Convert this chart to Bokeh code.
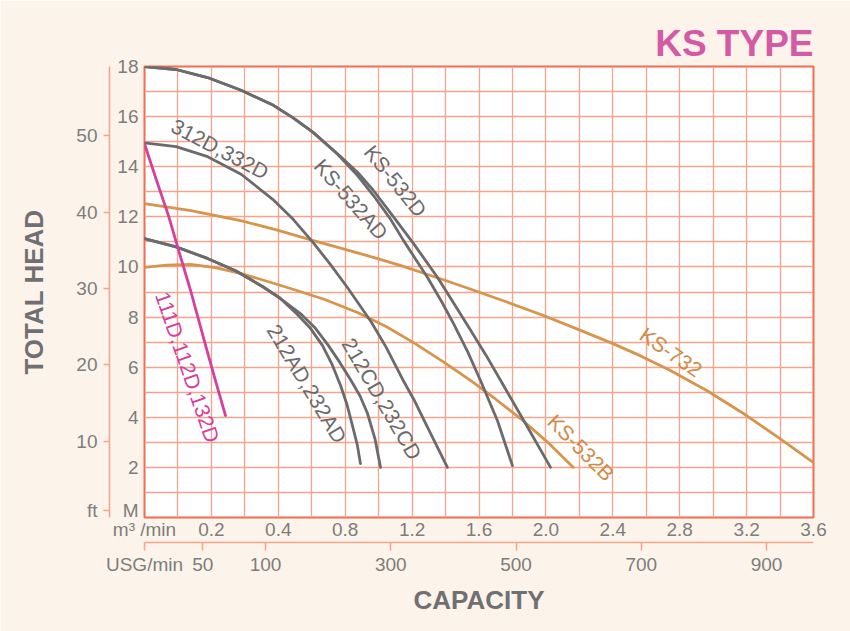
import math
from bokeh.plotting import figure
from bokeh.models import LinearAxis, Range1d, FixedTicker, Title, ColumnDataSource
from bokeh.embed import file_html
from bokeh.resources import INLINE
from bokeh.core.properties import value

# ---------------- axes / ticks ----------------
# capacity is on the m3/min scale of the chart (0 .. 3.6 across the frame)
m3_ticks = [0.0, 0.36, 0.72, 1.08, 1.44, 1.80, 2.16, 2.52, 2.88, 3.24, 3.60]
m3_labels = ["m³ /min", "0.2", "0.4", "0.8", "1.2", "1.6", "2.0", "2.4", "2.8", "3.2", "3.6"]
usg_ticks = [-93.2, 0, 100, 300, 500, 700, 900]
usg_labels = ["USG/min", "50", "100", "300", "500", "700", "900"]
m_ticks = [0.28, 2, 4, 6, 8, 10, 12, 14, 16, 18]
m_labels = ["M", "2", "4", "6", "8", "10", "12", "14", "16", "18"]
ft_ticks = [0.9, 10, 20, 30, 40, 50]
ft_labels = ["ft", "10", "20", "30", "40", "50"]

# ---------------- pump curves (capacity, head m) ----------------
ks532d_q = [0, 0.17, 0.339, 0.52, 0.694, 0.80, 0.909, 1.055, 1.15, 1.232, 1.34, 1.448,
            1.577, 1.66, 1.749, 1.84, 1.932, 2.05, 2.185]
ks532d_h = [18.0, 17.88, 17.56, 17.05, 16.45, 15.95, 15.36, 14.41, 13.75, 13.05, 12.0, 10.93,
            9.58, 8.6, 7.54, 6.45, 5.27, 3.75, 2.0]

ks532ad_q = [0, 0.17, 0.339, 0.52, 0.694, 0.80, 0.909, 1.039, 1.14, 1.232, 1.32, 1.394,
             1.46, 1.523, 1.60, 1.663, 1.74, 1.808, 1.90, 1.98]
ks532ad_h = [18.0, 17.88, 17.56, 17.05, 16.45, 15.95, 15.36, 14.5, 13.7, 12.85, 11.95, 11.05,
             10.3, 9.58, 8.6, 7.74, 6.6, 5.47, 3.85, 2.07]

d312_q = [0, 0.17, 0.34, 0.52, 0.69, 0.80, 0.91, 1.00, 1.09, 1.16, 1.22, 1.30, 1.39,
          1.45, 1.51, 1.57, 1.63]
d312_h = [14.95, 14.8, 14.4, 13.7, 12.7, 11.9, 10.95, 10.1, 9.2, 8.45, 7.8, 6.8, 5.5,
          4.7, 3.8, 2.9, 2.0]

ad212_q = [0, 0.17, 0.339, 0.49, 0.635, 0.73, 0.823, 0.893, 0.958, 1.01, 1.055, 1.09,
           1.119, 1.145, 1.162]
ad212_h = [11.13, 10.8, 10.34, 9.85, 9.22, 8.75, 8.1, 7.55, 6.86, 6.1, 5.27, 4.5,
           3.67, 2.9, 2.15]

cd212_q = [0, 0.17, 0.339, 0.49, 0.635, 0.73, 0.839, 0.92, 0.990, 1.05, 1.109, 1.16,
           1.20, 1.24, 1.27]
cd212_h = [11.13, 10.8, 10.34, 9.85, 9.22, 8.75, 8.14, 7.55, 6.86, 6.2, 5.5, 4.85,
           4.15, 3.15, 2.0]

ks532b_q = [0, 0.12, 0.248, 0.38, 0.517, 0.65, 0.786, 0.97, 1.146, 1.30, 1.448, 1.60,
            1.754, 1.89, 2.023, 2.17, 2.308]
ks532b_h = [9.98, 10.07, 10.10, 9.97, 9.74, 9.45, 9.14, 8.7, 8.18, 7.62, 6.98, 6.25,
            5.47, 4.72, 3.95, 3.0, 2.0]

ks732_q = [0, 0.25, 0.517, 0.71, 0.909, 1.07, 1.232, 1.38, 1.523, 1.64, 1.760, 1.95,
           2.147, 2.33, 2.508, 2.67, 2.830, 3.03, 3.223, 3.41, 3.600]
ks732_h = [12.53, 12.25, 11.85, 11.48, 11.05, 10.72, 10.38, 10.05, 9.70, 9.41, 9.10, 8.60,
           8.06, 7.52, 6.98, 6.45, 5.87, 5.05, 4.15, 3.2, 2.19]

d111_q = [0, 0.065, 0.129, 0.19, 0.248, 0.30, 0.344, 0.39, 0.436]
d111_h = [14.92, 13.45, 12.05, 10.5, 9.06, 7.65, 6.46, 5.25, 4.07]

# curve labels: text, x, y, angle (deg)
lab_text = ["312D,332D", "KS-532D", "KS-532AD", "212AD,232AD", "212CD,232CD",
            "111D,112D,132D", "KS-732", "KS-532B"]
lab_x = [0.407, 1.351, 1.112, 0.874, 1.278, 0.232, 2.833, 2.349]
lab_y = [14.71, 13.43, 12.70, 5.34, 4.74, 6.00, 6.60, 2.79]
lab_angle = [-27.6, -50.8, -48.7, -59.0, -59.7, -71.0, -34.6, -45.0]

GRAY = "#6b6b6d"
ORANGE = "#d8944c"
MAGENTA = "#d63f9b"
LABEL_ORANGE = "#cf8b45"
TICK_COL = "#7d7d7d"
SALMON = "#f6a38c"
FONT = "Liberation Sans"

p = figure(width=850, height=631, x_range=Range1d(0, 3.6), y_range=Range1d(0, 18),
           output_backend="svg", toolbar_location=None,
           min_border_left=144, min_border_right=37, min_border_top=66, min_border_bottom=114)
p.extra_x_ranges = {"usg": Range1d(-93.2, 975)}
p.extra_y_ranges = {"ft": Range1d(0, 18 * 3.2808)}

p.background_fill_color = "white"
p.border_fill_color = "#fcf4ea"
p.outline_line_color = "#f26d50"
p.outline_line_width = 2

# grids
p.xgrid.ticker = FixedTicker(ticks=[0.18 * k for k in range(1, 20)])
p.ygrid.ticker = FixedTicker(ticks=list(range(1, 18)))
for g in (p.xgrid, p.ygrid):
    g.grid_line_color = SALMON
    g.grid_line_width = 1.3

# metre axis (inner left)
ya = p.yaxis[0]
ya.ticker = FixedTicker(ticks=m_ticks)
ya.major_label_overrides = dict(zip(m_ticks, m_labels))
ya.axis_line_color = None
ya.major_tick_line_color = None
ya.minor_tick_line_color = None
ya.major_tick_out = 0
ya.major_tick_in = 0
ya.major_label_standoff = 6
ya.major_label_text_font = FONT
ya.major_label_text_font_size = "19px"
ya.major_label_text_color = TICK_COL
ya.axis_label = "."
ya.axis_label_text_alpha = 0
ya.axis_label_text_font_size = "2px"
ya.axis_label_standoff = 1

# feet axis (outer left)
fa = LinearAxis(y_range_name="ft", ticker=FixedTicker(ticks=ft_ticks),
                major_label_overrides=dict(zip(ft_ticks, ft_labels)),
                axis_label="TOTAL HEAD")
fa.axis_line_color = SALMON
fa.axis_line_width = 1.5
fa.major_tick_line_color = SALMON
fa.major_tick_line_width = 1.5
fa.major_tick_out = 6
fa.major_tick_in = 0
fa.minor_tick_line_color = None
fa.major_label_standoff = 6
fa.major_label_text_font = FONT
fa.major_label_text_font_size = "19px"
fa.major_label_text_color = TICK_COL
fa.axis_label_text_font = FONT
fa.axis_label_text_font_size = "26px"
fa.axis_label_text_font_style = "bold"
fa.axis_label_text_color = "#707072"
fa.axis_label_standoff = 24
p.add_layout(fa, "left")

# m3/min axis (inner bottom)
xa = p.xaxis[0]
xa.ticker = FixedTicker(ticks=m3_ticks)
xa.major_label_overrides = dict(zip(m3_ticks, m3_labels))
xa.axis_line_color = None
xa.major_tick_line_color = None
xa.minor_tick_line_color = None
xa.major_tick_out = 0
xa.major_tick_in = 0
xa.major_label_standoff = 1
xa.major_label_text_font = FONT
xa.major_label_text_font_size = "19px"
xa.major_label_text_color = TICK_COL

# USG/min axis (outer bottom)
ua = LinearAxis(x_range_name="usg", ticker=FixedTicker(ticks=usg_ticks),
                major_label_overrides=dict(zip(usg_ticks, usg_labels)),
                axis_label="CAPACITY")
ua.axis_line_color = SALMON
ua.axis_line_width = 1.5
ua.major_tick_line_color = SALMON
ua.major_tick_line_width = 1.5
ua.major_tick_out = 8
ua.major_tick_in = 0
ua.minor_tick_line_color = None
ua.major_label_standoff = 3
ua.major_label_text_font = FONT
ua.major_label_text_font_size = "19px"
ua.major_label_text_color = TICK_COL
ua.axis_label_text_font = FONT
ua.axis_label_text_font_size = "26px"
ua.axis_label_text_font_style = "bold"
ua.axis_label_text_color = "#707072"
ua.axis_label_standoff = 7
p.add_layout(ua, "below")

p.add_layout(Title(text="KS TYPE", align="right", text_font=FONT, text_font_size="37px",
                   text_font_style="bold", text_color="#d55aa5", standoff=6), "above")

# curves
curves = [
    (ks732_q, ks732_h, ORANGE),
    (ks532b_q, ks532b_h, ORANGE),
    (ks532d_q, ks532d_h, GRAY),
    (ks532ad_q, ks532ad_h, GRAY),
    (d312_q, d312_h, GRAY),
    (ad212_q, ad212_h, GRAY),
    (cd212_q, cd212_h, GRAY),
    (d111_q, d111_h, MAGENTA),
]
for q, h, c in curves:
    p.line(q, h, line_color=c, line_width=2.8, line_join="round", line_cap="round")

lab_color = [GRAY, GRAY, GRAY, GRAY, GRAY, MAGENTA, LABEL_ORANGE, LABEL_ORANGE]
src = ColumnDataSource(dict(x=lab_x, y=lab_y, text=lab_text,
                            angle=[math.radians(a) for a in lab_angle], color=lab_color))
p.text(x="x", y="y", text="text", angle="angle", text_color="color", source=src,
       text_align="center", text_baseline="middle", text_font=value(FONT),
       text_font_size="21px")

open("out.html", "w").write(file_html(p, INLINE))
